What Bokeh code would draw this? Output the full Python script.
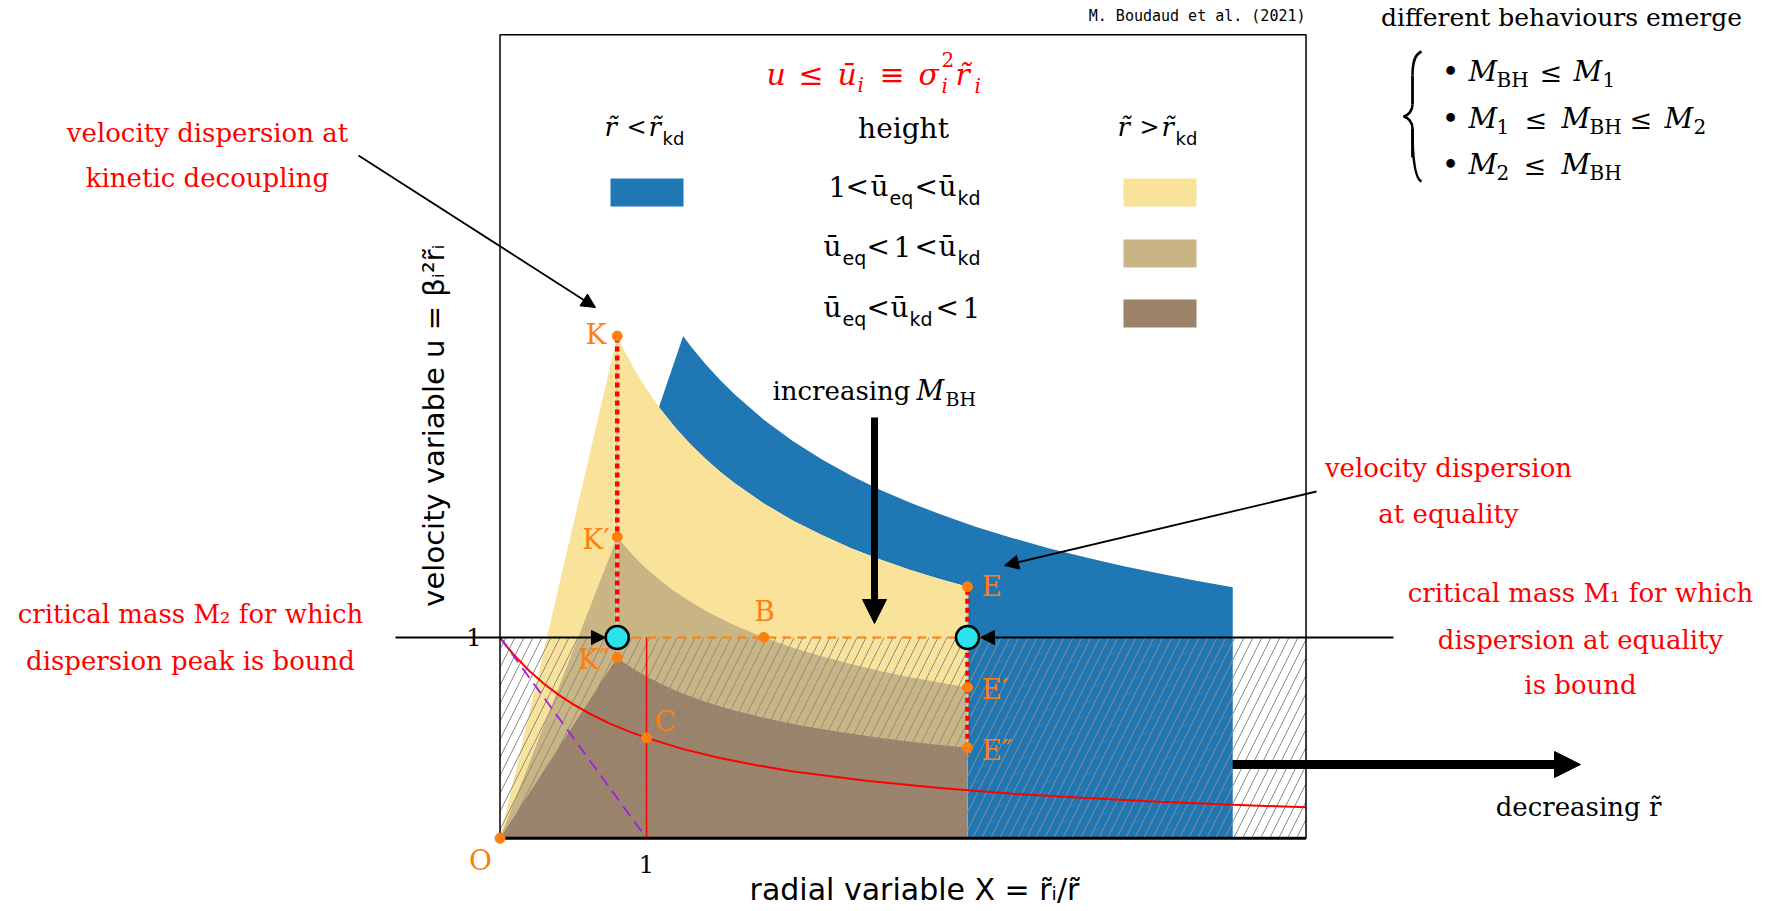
from math import pi

from bokeh.plotting import figure
from bokeh.models import Range1d, Label, Arrow, NormalHead
from bokeh.embed import file_html
from bokeh.resources import INLINE

SERIF = "DejaVu Serif"
SANS = "DejaVu Sans"
MONO = "DejaVu Sans Mono"

RED = "#ff0000"
ORANGE = "#ff7f0e"
BLUE = "#1f77b4"
YELLOW = "#f9e39b"
TAN = "#c9b584"
BROWN = "#9b8269"
CYAN = "#2be3eb"

# ---------------------------------------------------------------- data
# box limits in (X, u)
X_MAX = 5.5
U_MAX = 4.0

# velocity-dispersion branch for r < r_kd, sampled in the radial variable X
branch_x = [0.8, 0.85, 0.9, 0.95, 1.0, 1.1, 1.2, 1.3, 1.4, 1.5, 1.6, 1.8, 2.0, 2.2, 2.4, 2.6, 2.8, 3.0, 3.19]
u_high = [2.500, 2.425, 2.357, 2.294, 2.236, 2.132, 2.041, 1.961, 1.890, 1.826, 1.768, 1.667, 1.581,
          1.508, 1.443, 1.387, 1.336, 1.291, 1.252]
u_mid = [1.500, 1.456, 1.415, 1.377, 1.342, 1.280, 1.225, 1.177, 1.134, 1.096, 1.061, 1.000, 0.949,
         0.905, 0.866, 0.832, 0.802, 0.775, 0.751]
u_low = [0.900, 0.873, 0.849, 0.826, 0.805, 0.768, 0.735, 0.706, 0.680, 0.657, 0.636, 0.600, 0.569,
         0.543, 0.520, 0.499, 0.481, 0.465, 0.451]

# band for r > r_kd
band_x = [1.25, 1.3, 1.4, 1.5, 1.6, 1.8, 2.0, 2.2, 2.4, 2.6, 2.8, 3.0, 3.25, 3.5, 3.75, 4.0, 4.25,
          4.5, 4.75, 5.0]
band_top = [2.500, 2.451, 2.362, 2.282, 2.210, 2.083, 1.976, 1.884, 1.804, 1.733, 1.670, 1.614,
            1.550, 1.494, 1.443, 1.398, 1.356, 1.318, 1.282, 1.250]
band_corner_x = 1.085
band_corner_u = 2.147
band_end_x = 5.0

# binding limit u(X)
bound_x = [0.0, 0.05, 0.1, 0.2, 0.3, 0.4, 0.5, 0.6, 0.75, 0.9, 1.0, 1.25, 1.5, 1.75, 2.0, 2.5, 3.0,
           3.5, 4.0, 4.5, 5.0, 5.5]
bound_u = [1.000, 0.952, 0.909, 0.833, 0.769, 0.714, 0.667, 0.625, 0.571, 0.526, 0.500, 0.444,
           0.400, 0.364, 0.333, 0.286, 0.250, 0.222, 0.200, 0.182, 0.167, 0.154]

# bound region u <= 1 and the tangent line through (0,1) and (1,0)
bound_level = 1.0
tangent_x = [0.0, 1.0]
tangent_u = [1.0, 0.0]
x_c = 1.0
level_line_x = [0.8, 3.3]

# named points
point_names = ["O", "K", "K′", "K″", "B", "C", "E", "E′", "E″"]
point_x = [0.0, branch_x[0], branch_x[0], branch_x[0], 1.8, 1.0, branch_x[-1], branch_x[-1], branch_x[-1]]
point_u = [0.0, u_high[0], u_mid[0], u_low[0], 1.0, 0.5, u_high[-1], u_mid[-1], u_low[-1]]

# critical masses (where the peak and the equality value reach u = 1)
crit_x = [branch_x[0], branch_x[-1]]
crit_u = [1.0, 1.0]

# ---------------------------------------------------------------- figure
W, H = 1780, 911
# scale: 146.55 px per unit of X, 200.9 px per unit of u, origin at (499.5, 837.8)
p = figure(width=W, height=H,
           x_range=Range1d(-499.5 / 146.55, (W - 499.5) / 146.55),
           y_range=Range1d((837.8 - H) / 200.9, 837.8 / 200.9),
           x_axis_location=None, y_axis_location=None,
           output_backend="svg", toolbar_location=None, min_border=0)
p.grid.visible = False
p.outline_line_color = None
p.background_fill_color = "white"
p.extra_x_ranges = {"page": Range1d(0, W)}
p.extra_y_ranges = {"page": Range1d(H, 0)}

# band r > r_kd
i_low = branch_x.index(1.1)
blue_x = band_x + [band_end_x, branch_x[-1]] + branch_x[i_low:][::-1] + [band_corner_x]
blue_u = band_top + [0.0, 0.0] + u_high[i_low:][::-1] + [band_corner_u]
p.patch(blue_x, blue_u, fill_color=BLUE, line_color=None)

# three nested regimes for r < r_kd
for ys, col in [(u_high, YELLOW), (u_mid, TAN), (u_low, BROWN)]:
    xs = [0.0] + branch_x + [branch_x[-1]]
    us = [0.0] + ys + [0.0]
    p.patch(xs, us, fill_color=col, line_color=None)

# hatched bound region u <= 1
p.quad(left=0, right=X_MAX, bottom=0, top=bound_level, fill_color=None, line_color=None,
       hatch_pattern="/", hatch_color="#8c8c8c", hatch_weight=1, hatch_scale=18)

# binding curve, tangent and vertical at X = 1
p.line(bound_x, bound_u, line_color=RED, line_width=2)
p.line(tangent_x, tangent_u, line_color="#a31ee6", line_width=1.8, line_dash="12 7")
p.line([x_c, x_c], [0, bound_level], line_color=RED, line_width=1.5)
p.line(level_line_x, [bound_level, bound_level], line_color=ORANGE, line_width=2, line_dash="9 6")

# dotted verticals K-K'' and E-E''
for xv, lo, hi in [(branch_x[0], u_low[0], u_high[0]), (branch_x[-1], u_low[-1], u_high[-1])]:
    p.line([xv, xv], [lo, hi], line_color="#cfcfbd", line_width=2)
    p.line([xv, xv], [lo, hi], line_color=RED, line_width=4.5, line_dash="5 4")

# frame
p.quad(left=0, right=X_MAX, bottom=0, top=U_MAX, fill_color=None, line_color="black", line_width=1.5)
p.line([0, X_MAX], [0, 0], line_color="black", line_width=3)

# points
p.scatter(point_x, point_u, size=10, fill_color=ORANGE, line_color=ORANGE)
p.scatter(crit_x, crit_u, size=23, fill_color=CYAN, line_color="black", line_width=2.5)


# ---------------------------------------------------------------- annotations
def txt(x, y, s, size=26, color="black", font=SERIF, style="normal", align="left",
        baseline="alphabetic", angle=0.0):
    # y is the text baseline; the label box is centred vertically, so lift it
    # by the distance between the baseline and the middle of the em box
    yo = 0.345 * size if baseline == "alphabetic" else 0.0
    p.add_layout(Label(x=x, y=y, text=s, x_range_name="page", y_range_name="page",
                       y_offset=yo, text_font=font, text_font_size=f"{size}px",
                       text_font_style=style, text_color=color, text_align=align,
                       text_baseline=baseline, angle=angle))


def arrow(x0, y0, x1, y1, width=1.8, head=14):
    p.add_layout(Arrow(end=NormalHead(size=head, fill_color="black", line_color="black", line_width=1),
                       x_start=x0, y_start=y0, x_end=x1, y_end=y1, line_color="black",
                       line_width=width, x_range_name="page", y_range_name="page"))


# title formula
txt(766, 84, "u", 30, RED, style="italic")
txt(798, 84, "≤", 30, RED)
txt(837, 84, "ū", 30, RED, style="italic")
txt(857, 91, "i", 20, RED, style="italic")
txt(879, 84, "≡", 30, RED)
txt(918, 84, "σ", 30, RED, style="italic")
txt(941, 66, "2", 20, RED)
txt(941, 92, "i", 20, RED, style="italic")
txt(955, 84, "r̃", 30, RED, style="italic")
txt(974, 92, "i", 20, RED, style="italic")

# legend headers
for x_r1, sym, x_sym, x_r2, x_kd in [(604, "<", 626, 648, 662), (1117, ">", 1139, 1161, 1175)]:
    txt(x_r1, 135, "r̃", 26, style="italic")
    txt(x_sym, 135, sym, 24)
    txt(x_r2, 135, "r̃", 26, style="italic")
    txt(x_kd, 144, "kd", 18, font=SANS)
txt(903, 138, "height", 28, align="center")

# legend swatches
p.quad(left=[610, 1123, 1123, 1123], right=[683, 1196, 1196, 1196],
       top=[178, 178, 239, 299], bottom=[206, 206, 267, 327],
       fill_color=[BLUE, YELLOW, TAN, BROWN], line_color=None,
       x_range_name="page", y_range_name="page")

# legend rows: (x, text, is_subscript)
rows = [
    (196, [(828, "1", 0), (845, "<", 0), (870, "ū", 0), (889, "eq", 1), (914, "<", 0), (938, "ū", 0), (957, "kd", 1)]),
    (256, [(823, "ū", 0), (842, "eq", 1), (866, "<", 0), (893, "1", 0), (914, "<", 0), (938, "ū", 0), (957, "kd", 1)]),
    (317, [(823, "ū", 0), (842, "eq", 1), (866, "<", 0), (890, "ū", 0), (909, "kd", 1), (935, "<", 0), (962, "1", 0)]),
]
for yb, pieces in rows:
    for xp, s, sub in pieces:
        if sub:
            txt(xp, yb + 8, s, 19, font=SANS)
        else:
            txt(xp, yb, s, 28)

# credit
txt(1305, 21, "M. Boudaud et al. (2021)", 15, font=MONO, align="right")

# point labels
txt(606, 344, "K", 28, ORANGE, align="right")
txt(609, 549, "K′", 28, ORANGE, align="right")
txt(609, 669, "K″", 28, ORANGE, align="right")
txt(764, 621, "B", 28, ORANGE, align="center")
txt(654, 731, "C", 28, ORANGE)
txt(981, 596, "E", 28, ORANGE)
txt(981, 699, "E′", 28, ORANGE)
txt(981, 760, "E″", 28, ORANGE)
txt(480, 870, "O", 28, ORANGE, align="center")

# ticks and axis titles
txt(481, 645, "1", 24, align="right")
txt(646, 872, "1", 24, align="center")
txt(433, 425, "velocity variable u = βᵢ²r̃ᵢ", 29, font=SANS, align="center", baseline="middle", angle=pi / 2)
txt(914, 899, "radial variable X = r̃ᵢ/r̃", 30, font=SANS, align="center")

# side notes
txt(207, 141, "velocity dispersion at", 26, RED, align="center")
txt(207, 186, "kinetic decoupling", 26, RED, align="center")
txt(190, 622, "critical mass M₂ for which", 26, RED, align="center")
txt(190, 669, "dispersion peak is bound", 26, RED, align="center")
txt(1448, 476, "velocity dispersion", 26, RED, align="center")
txt(1448, 522, "at equality", 26, RED, align="center")
txt(1580, 601, "critical mass M₁ for which", 26, RED, align="center")
txt(1580, 648, "dispersion at equality", 26, RED, align="center")
txt(1580, 693, "is bound", 26, RED, align="center")
txt(1578, 815, "decreasing r̃", 26, align="center")
txt(772, 399, "increasing", 26)
txt(916, 399, "M", 27, style="italic")
txt(945, 405, "BH", 19)

# regimes list
txt(1561, 26, "different behaviours emerge", 25, align="center")
bullet_rows = [
    (81, [(1468, "M", "m"), (1496, "BH", "s"), (1539, "≤", "n"), (1573, "M", "m"), (1602, "1", "s")]),
    (128, [(1468, "M", "m"), (1496, "1", "s"), (1524, "≤", "n"), (1561, "M", "m"), (1589, "BH", "s"),
           (1629, "≤", "n"), (1664, "M", "m"), (1693, "2", "s")]),
    (174, [(1468, "M", "m"), (1496, "2", "s"), (1523, "≤", "n"), (1561, "M", "m"), (1589, "BH", "s")]),
]
for yb, pieces in bullet_rows:
    txt(1450, yb, "•", 30, align="center")
    for xp, s, kind in pieces:
        if kind == "m":
            txt(xp, yb, s, 28, style="italic")
        elif kind == "s":
            txt(xp, yb + 5, s, 20)
        else:
            txt(xp, yb, s, 27)

# brace
p.bezier(x0=[1421, 1412, 1403, 1412], y0=[51, 104, 116, 128],
         x1=[1412, 1403, 1412, 1421], y1=[75, 116, 128, 181],
         cx0=[1414, 1412, 1408, 1412], cy0=[54, 110, 117, 157],
         cx1=[1412, 1408, 1412, 1414], cy1=[62, 115, 122, 178],
         line_color="black", line_width=2.5, x_range_name="page", y_range_name="page")
p.segment(x0=[1412, 1412], y0=[75, 128], x1=[1412, 1412], y1=[104, 157],
          line_color="black", line_width=2.8, x_range_name="page", y_range_name="page")

# arrows
arrow(358, 155, 595, 307)
arrow(395, 637, 605, 637)
arrow(1316, 491, 1004, 565)
arrow(1393, 637, 980, 637)
arrow(874, 417, 874, 623, width=7, head=24)
arrow(1232, 764, 1580, 764, width=9, head=26)

open("out.html", "w").write(file_html(p, INLINE))
